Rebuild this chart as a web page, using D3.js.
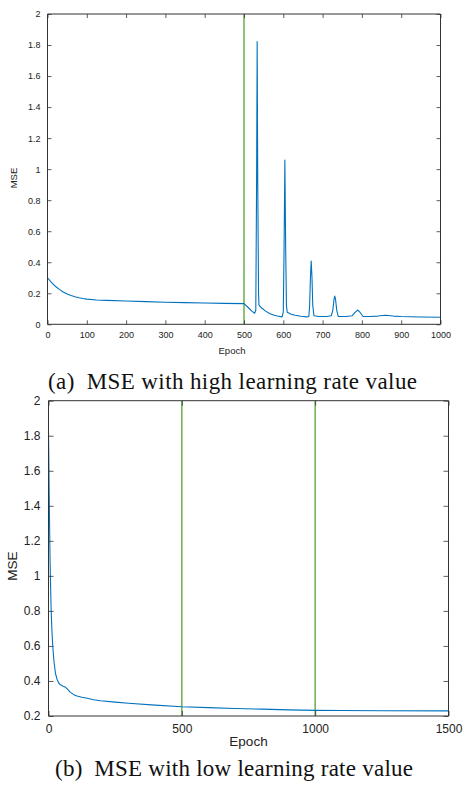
<!DOCTYPE html>
<html>
<head>
<meta charset="utf-8">
<script src="https://cdn.jsdelivr.net/npm/d3@7"></script>
<style>
  html, body { margin: 0; padding: 0; background: #fff; }
  svg { display: block; }
</style>
</head>
<body>
<svg id="chart" width="465" height="787"></svg>
<script>
// ---------- Data ----------
// Chart (a): high learning rate
const epochsA = [0,10,20,30,40,50,60,70,80,90,100,125,150,200,250,300,350,400,450,500,
  510,520,527,530,532,533.5,535,537,538,545,555,565,575,585,597,
  600,602,604,606,608,610,620,630,645,660,665,667,669,671,673,675,678,690,710,
  722,726,729,731,733,736,740,760,775,782,789,795,803,820,840,860,880,900,950,1000];
const mseA = [0.300,0.270,0.245,0.225,0.208,0.195,0.185,0.177,0.171,0.166,0.162,0.157,0.154,0.150,0.146,0.142,0.140,0.137,0.135,0.133,
  0.110,0.085,0.071,0.090,0.900,1.823,0.900,0.200,0.124,0.105,0.085,0.070,0.060,0.053,0.048,
  0.080,0.500,1.059,0.500,0.120,0.077,0.065,0.058,0.052,0.048,0.050,0.120,0.300,0.408,0.300,0.120,0.055,0.050,0.050,
  0.055,0.090,0.160,0.182,0.160,0.090,0.050,0.050,0.055,0.075,0.092,0.078,0.050,0.050,0.053,0.058,0.053,0.050,0.047,0.045];
const markersA = [500];
const xTicksA = [0,100,200,300,400,500,600,700,800,900,1000];
const yTicksA = [0,0.2,0.4,0.6,0.8,1,1.2,1.4,1.6,1.8,2];

// Chart (b): low learning rate
const epochsB = [0,1,2,3,4,5,6,7,8,10,13,16,20,26,32,39,45,55,64,72,82,95,107,125,145,170,195,250,300,400,500,600,700,800,900,1000,1100,1250,1500];
const mseB = [1.820,1.700,1.550,1.420,1.300,1.180,1.080,1.000,0.930,0.800,0.680,0.600,0.520,0.444,0.410,0.387,0.378,0.370,0.364,0.352,0.335,0.322,0.314,0.307,0.301,0.293,0.287,0.279,0.273,0.262,0.253,0.248,0.243,0.239,0.235,0.232,0.231,0.230,0.229];
const markersB = [500, 1000];
const xTicksB = [0,500,1000,1500];
const yTicksB = [0.2,0.4,0.6,0.8,1,1.2,1.4,1.6,1.8,2];

const captionA = "(a)\u2002MSE with high learning rate value";
const captionB = "(b)\u2002MSE with low learning rate value";

// ---------- Drawing ----------
const svg = d3.select("#chart");
const BLUE = "#0072BD", GREEN = "#5fa83f", AXIS = "#333";

function drawPanel(cfg) {
  const g = svg.append("g");
  const x = d3.scaleLinear().domain(cfg.xDomain).range([cfg.left, cfg.right]);
  const y = d3.scaleLinear().domain(cfg.yDomain).range([cfg.bottom, cfg.top]);
  const fmt = d => String(+d.toFixed(1));

  const clipId = "clip" + cfg.id;
  svg.append("defs").append("clipPath").attr("id", clipId)
    .append("rect").attr("x", cfg.left).attr("y", cfg.top)
    .attr("width", cfg.right - cfg.left).attr("height", cfg.bottom - cfg.top);

  g.append("g").attr("clip-path", `url(#${clipId})`).selectAll("line").data(cfg.markers).join("line")
    .attr("x1", d => x(d)).attr("x2", d => x(d))
    .attr("y1", y(cfg.yDomain[0])).attr("y2", y(cfg.yDomain[1]))
    .attr("stroke", GREEN).attr("stroke-width", 1.4);

  const line = d3.line().x((d, i) => x(cfg.ex[i])).y(d => y(d));
  g.append("path").datum(cfg.ey)
    .attr("clip-path", `url(#${clipId})`)
    .attr("d", line).attr("fill", "none")
    .attr("stroke", BLUE).attr("stroke-width", 1.1).attr("stroke-linejoin", "round");

  const ts = cfg.tickSize;
  const axB = g.append("g").attr("transform", `translate(0,${cfg.bottom})`)
    .call(d3.axisBottom(x).tickValues(cfg.xTicks).tickSize(-ts).tickPadding(ts + 3).tickFormat(d => d));
  const axT = g.append("g").attr("transform", `translate(0,${cfg.top})`)
    .call(d3.axisTop(x).tickValues(cfg.xTicks).tickSize(-ts).tickFormat(""));
  const axL = g.append("g").attr("transform", `translate(${cfg.left},0)`)
    .call(d3.axisLeft(y).tickValues(cfg.yTicks).tickSize(-ts).tickPadding(ts + 3).tickFormat(fmt));
  const axR = g.append("g").attr("transform", `translate(${cfg.right},0)`)
    .call(d3.axisRight(y).tickValues(cfg.yTicks).tickSize(-ts).tickFormat(""));

  [axB, axT, axL, axR].forEach(a => {
    a.select(".domain").attr("stroke", AXIS).attr("stroke-width", 1);
    a.selectAll(".tick line").attr("stroke", AXIS).attr("stroke-width", 0.8);
    a.selectAll("text").attr("fill", "#222").attr("font-family", "'Liberation Sans', Arial, sans-serif")
      .attr("font-size", cfg.tickFont);
  });
  [axB, axT].forEach(a => a.select(".domain").attr("d", `M${cfg.left},0H${cfg.right}`));
  [axL, axR].forEach(a => a.select(".domain").attr("d", `M0,${cfg.bottom}V${cfg.top}`));

  g.append("text").attr("x", (cfg.left + cfg.right) / 2 + cfg.xTitleDx).attr("y", cfg.xTitleY)
    .attr("text-anchor", "middle").attr("font-family", "'Liberation Sans', Arial, sans-serif")
    .attr("font-size", cfg.titleFont).attr("fill", "#222").text("Epoch");
  g.append("text").attr("transform", `translate(${cfg.yTitleX},${cfg.yTitleY}) rotate(-90)`)
    .attr("text-anchor", "middle").attr("font-family", "'Liberation Sans', Arial, sans-serif")
    .attr("font-size", cfg.titleFont).attr("fill", "#222").text("MSE");

  g.append("text").attr("x", cfg.capX).attr("y", cfg.capY)
    .attr("font-family", "'Liberation Serif', 'Times New Roman', serif")
    .attr("font-size", 23).attr("fill", "#111")
    .attr("textLength", cfg.capW).attr("lengthAdjust", "spacing")
    .text(cfg.caption);
}

drawPanel({
  id: "A", xDomain: [0, 1000], yDomain: [0, 2],
  left: 47.5, right: 440.5, top: 14, bottom: 324.3,
  ex: epochsA, ey: mseA, markers: markersA, xTicks: xTicksA, yTicks: yTicksA,
  tickSize: 4, tickFont: 9, titleFont: 9.5,
  xTitleDx: -12, xTitleY: 353.5, yTitleX: 17, yTitleY: 178,
  caption: captionA, capX: 48, capY: 389, capW: 369
});

drawPanel({
  id: "B", xDomain: [0, 1500], yDomain: [0.2, 2],
  left: 48.5, right: 448.5, top: 400.7, bottom: 716,
  ex: epochsB, ey: mseB, markers: markersB, xTicks: xTicksB, yTicks: yTicksB,
  tickSize: 5, tickFont: 12, titleFont: 13.5,
  xTitleDx: 0, xTitleY: 745.5, yTitleX: 17, yTitleY: 566,
  caption: captionB, capX: 55, capY: 776, capW: 358
});
</script>
</body>
</html>
